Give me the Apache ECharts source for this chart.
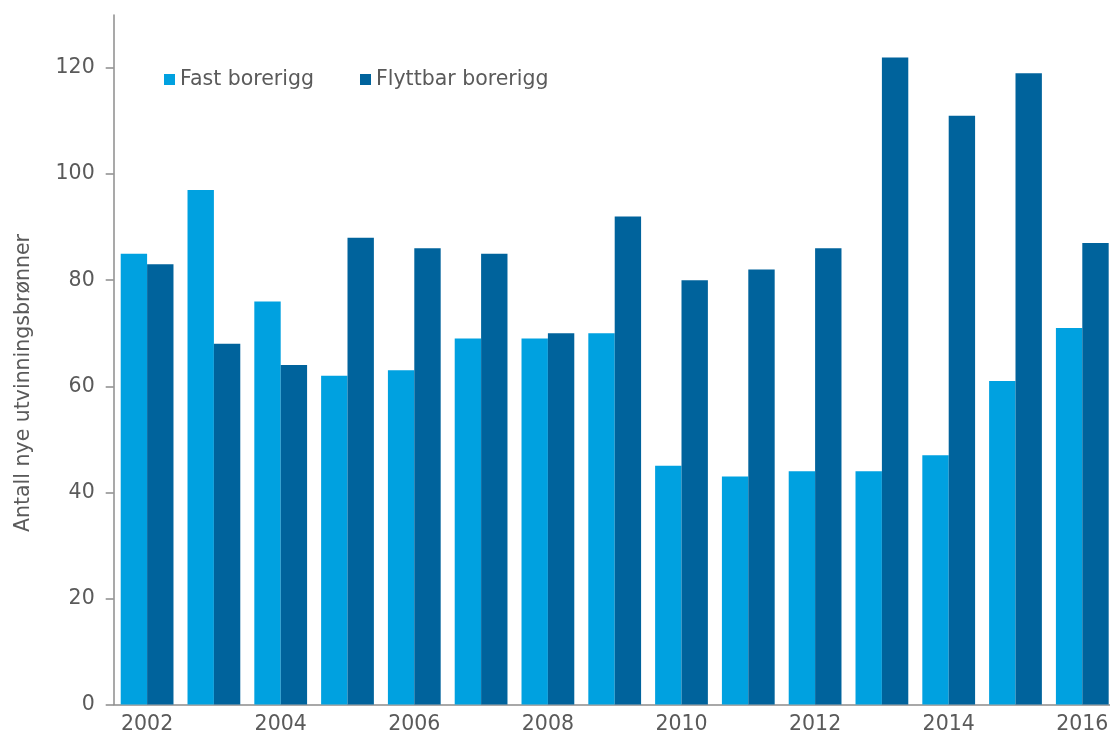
<!DOCTYPE html>
<html>
<head>
<meta charset="utf-8">
<script src="https://cdn.jsdelivr.net/npm/echarts@6/dist/echarts.min.js"></script>
<style>
  html, body { margin: 0; padding: 0; background: #ffffff; }
  #chart { width: 1110px; height: 735px; }
</style>
</head>
<body>
<div id="chart"></div>
<script>
// Nye utvinningsbrønner per år, fordelt på type borerigg
const years = ['2002', '2003', '2004', '2005', '2006', '2007', '2008', '2009',
               '2010', '2011', '2012', '2013', '2014', '2015', '2016'];
const fastBorerigg = [85, 97, 76, 62, 63, 69, 69, 70, 45, 43, 44, 44, 47, 61, 71];
const flyttbarBorerigg = [83, 68, 64, 88, 86, 85, 70, 92, 80, 82, 86, 122, 111, 119, 87];
const yTicks = [0, 20, 40, 60, 80, 100, 120];
const seriesNames = ['Fast borerigg', 'Flyttbar borerigg'];
const yTitle = 'Antall nye utvinningsbrønner';

const textColor = '#5a5a5a';
const axisColor = '#8c8c8c';
const fontFamily = '"DejaVu Sans", Verdana, sans-serif';
const fontSize = 20.5;

const chart = echarts.init(document.getElementById('chart'), null, { renderer: 'canvas' });

chart.setOption({
  animation: false,
  backgroundColor: '#ffffff',
  textStyle: { fontFamily: fontFamily },
  color: ['#00a1e0', '#00639c'],
  // the plot runs slightly past the right edge of the canvas
  grid: { left: 113.7, top: 15, width: 1002, height: 689.5, outerBoundsMode: 'none' },
  legend: {
    data: seriesNames,
    left: 159,
    top: 64,
    icon: 'rect',
    itemWidth: 11,
    itemHeight: 11,
    itemGap: 46,
    textStyle: { color: textColor, fontSize: fontSize, fontFamily: fontFamily }
  },
  graphic: [{
    type: 'text',
    x: 24,
    y: 383,
    rotation: Math.PI / 2,
    style: {
      text: yTitle,
      fill: textColor,
      fontSize: fontSize,
      fontFamily: fontFamily,
      align: 'center',
      verticalAlign: 'middle'
    }
  }],
  xAxis: {
    type: 'category',
    data: years,
    axisLine: { show: true, lineStyle: { color: axisColor, width: 1.5 } },
    axisTick: { show: false },
    axisLabel: {
      interval: 1,
      color: textColor,
      fontSize: fontSize,
      fontFamily: fontFamily,
      margin: 10
    },
    splitLine: { show: false }
  },
  yAxis: {
    type: 'value',
    min: 0,
    max: 130,
    interval: 10,
    axisLine: { show: true, lineStyle: { color: axisColor, width: 1.5 } },
    axisTick: {
      show: true,
      length: 8,
      customValues: yTicks,
      lineStyle: { color: axisColor, width: 1.5 }
    },
    axisLabel: {
      customValues: yTicks,
      color: textColor,
      fontSize: fontSize,
      fontFamily: fontFamily,
      margin: 19
    },
    splitLine: { show: false }
  },
  series: [
    {
      name: seriesNames[0],
      type: 'bar',
      data: fastBorerigg,
      barGap: '0%',
      barCategoryGap: '21%'
    },
    {
      name: seriesNames[1],
      type: 'bar',
      data: flyttbarBorerigg,
      barGap: '0%',
      barCategoryGap: '21%'
    }
  ]
});
</script>
</body>
</html>
